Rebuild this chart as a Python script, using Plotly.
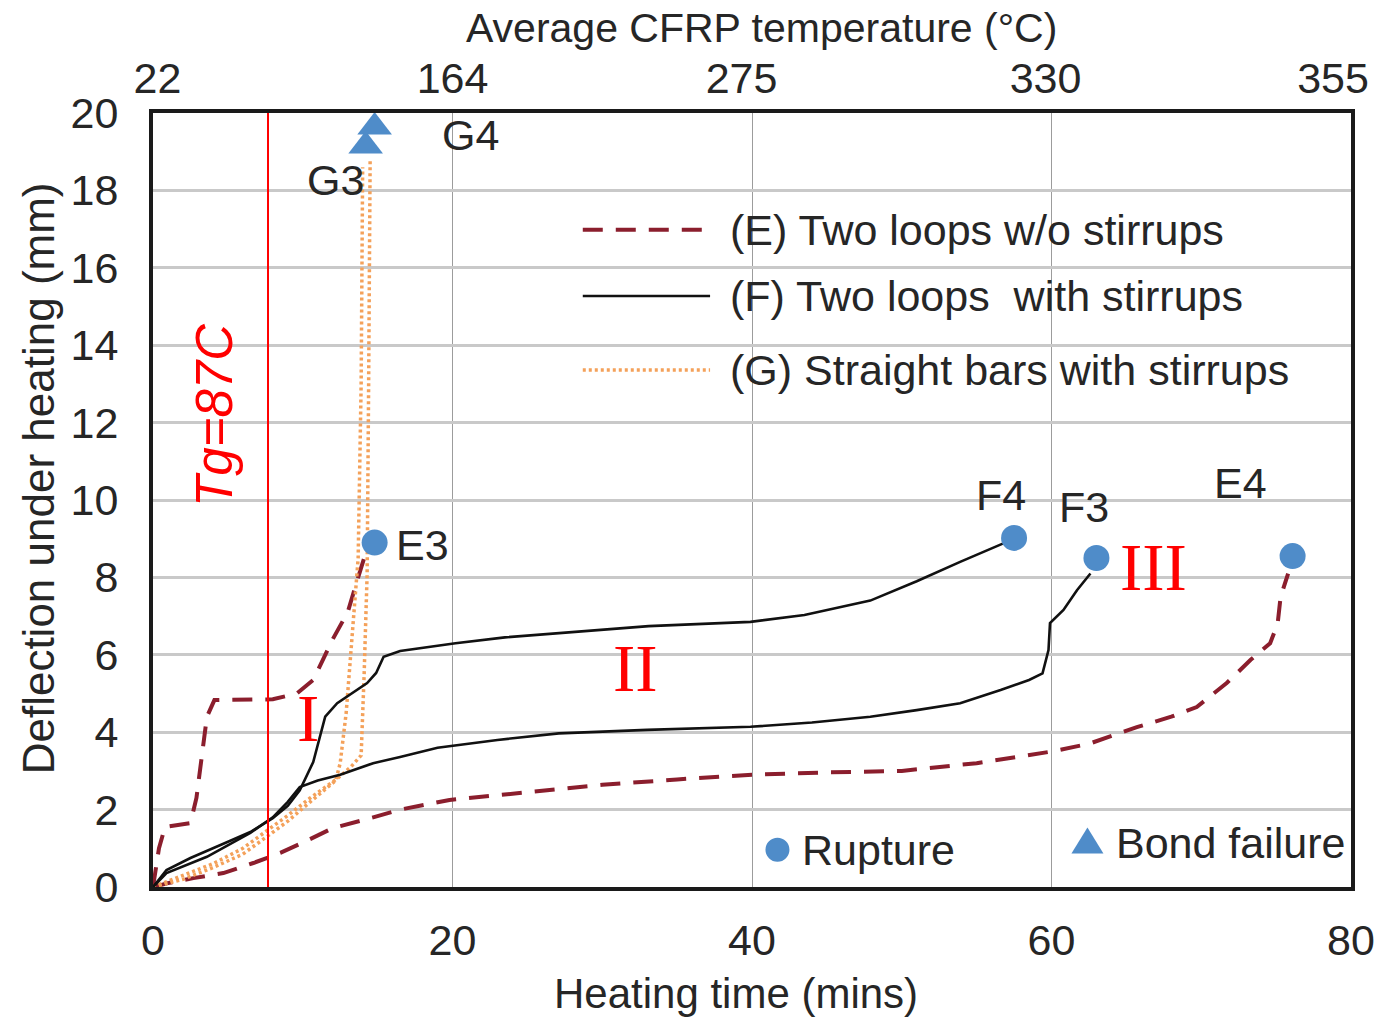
import plotly.graph_objects as go

# ---- data: heating time (min) vs. mid-span deflection (mm) ----
E3_time = [0, 0.4, 0.8, 1.6, 2.5, 2.9, 3.3, 3.6, 4.1, 6.0, 8.0, 9.6, 10.7, 12.0, 13.0, 13.7, 14.1]
E3_defl = [0, 1.0, 1.55, 1.6, 1.65, 2.3, 3.5, 4.4, 4.83, 4.83, 4.85, 5.0, 5.35, 6.4, 7.1, 8.0, 8.5]

E4_time = [0, 1.0, 2.7, 4.7, 6.7, 8.5, 10.3, 12.0, 14.7, 16.5, 19.8, 25, 30, 35, 40, 45, 50, 55,
           60, 62.5, 65.7, 68, 69.7, 71.7, 73.3, 74.6, 75.1, 75.3, 75.8]
E4_defl = [0, 0.1, 0.23, 0.36, 0.62, 0.88, 1.2, 1.52, 1.8, 2.0, 2.25, 2.45, 2.64, 2.78, 2.9, 2.96,
           3.0, 3.2, 3.5, 3.7, 4.13, 4.4, 4.65, 5.27, 5.87, 6.3, 6.8, 7.5, 8.1]

F4_time = [0, 0.9, 2.5, 3.8, 5.2, 6.5, 8.0, 9.0, 9.8, 10.7, 11.1, 11.5, 12.3, 13.5, 14.3, 14.9,
           15.4, 16.5, 20.2, 23.5, 27.1, 33.1, 39.9, 43.5, 47.9, 51.0, 53.9, 56.9]
F4_defl = [0, 0.44, 0.75, 0.96, 1.2, 1.42, 1.78, 2.1, 2.5, 3.23, 3.8, 4.4, 4.75, 5.05, 5.27, 5.53,
           5.95, 6.1, 6.3, 6.45, 6.56, 6.74, 6.85, 7.03, 7.4, 7.9, 8.4, 8.9]

F3_time = [0, 0.9, 3.6, 6.5, 8.0, 9.0, 9.8, 11.0, 12.5, 14.7, 16.5, 19.0, 23, 27.1, 33, 39.9, 44,
           47.9, 51, 53.9, 56.6, 58.5, 59.4, 59.8, 59.9, 60.8, 61.7, 62.6]
F3_defl = [0, 0.36, 0.78, 1.4, 1.8, 2.2, 2.58, 2.75, 2.9, 3.2, 3.36, 3.6, 3.8, 3.97, 4.06, 4.14,
           4.25, 4.4, 4.57, 4.75, 5.09, 5.35, 5.52, 6.12, 6.82, 7.16, 7.67, 8.1]

G3_time = [0, 2.0, 4.0, 6.0, 7.6, 9.0, 10.5, 12.2, 12.5, 12.9, 13.3, 13.7, 13.9, 14.0]
G3_defl = [0, 0.2, 0.5, 0.85, 1.3, 1.7, 2.2, 2.75, 3.2, 4.5, 6.5, 8.5, 13.0, 18.6]
G4_time = [0, 2.0, 4.0, 6.0, 7.6, 9.0, 10.5, 12.3, 13.2, 13.9, 14.1, 14.3, 14.4, 14.5]
G4_defl = [0, 0.3, 0.6, 1.0, 1.45, 1.85, 2.3, 2.8, 3.1, 3.4, 5.5, 8.1, 13.0, 18.8]

# failure points
rupture_names = ["E3", "F4", "F3", "E4"]
rupture_time = [14.8, 57.5, 63.0, 76.1]
rupture_defl = [8.9, 9.02, 8.5, 8.55]

bond_names = ["G3", "G4"]
bond_time = [14.2, 14.8]
bond_defl = [19.15, 19.64]

# top axis: average CFRP temperature, labels placed along the time scale
temp_tick_pos = [0.3, 20.0, 39.3, 59.6, 78.8]
temp_tick_label = ["22", "164", "275", "330", "355"]

TG_TIME = 7.68          # time when CFRP reaches Tg = 87 C
TG_LABEL = "Tg=87C"

legend_labels = ["(E) Two loops w/o stirrups", "(F) Two loops  with stirrups",
                 "(G) Straight bars with stirrups"]

# ---- styles ----
FONT = "Liberation Sans, Arial, sans-serif"
TXT = "#262626"
E_COLOR = "#8B1E2D"
F_COLOR = "#111111"
G_COLOR = "#F4A15A"
MARK_COLOR = "#4F8CC9"
E_LINE = dict(color=E_COLOR, width=4, dash="20px,13px")
F_LINE = dict(color=F_COLOR, width=2.6)
G_LINE = dict(color=G_COLOR, width=3.5, dash="3px,3px")
TEXT_SIZE = 43

fig = go.Figure()

for t, d in [(E3_time, E3_defl), (E4_time, E4_defl)]:
    fig.add_trace(go.Scatter(x=t, y=d, mode="lines", line=E_LINE, hoverinfo="skip"))
for t, d in [(G3_time, G3_defl), (G4_time, G4_defl)]:
    fig.add_trace(go.Scatter(x=t, y=d, mode="lines", line=G_LINE, hoverinfo="skip"))
for t, d in [(F4_time, F4_defl), (F3_time, F3_defl)]:
    fig.add_trace(go.Scatter(x=t, y=d, mode="lines", line=F_LINE, hoverinfo="skip"))

fig.add_trace(go.Scatter(x=rupture_time, y=rupture_defl, mode="markers", cliponaxis=False,
                         marker=dict(symbol="circle", size=26, color=MARK_COLOR)))
fig.add_trace(go.Scatter(x=bond_time, y=bond_defl, mode="markers", cliponaxis=False,
                         marker=dict(symbol="triangle-up", size=30, color=MARK_COLOR)))

# invisible trace so the top temperature axis is drawn
fig.add_trace(go.Scatter(x=temp_tick_pos, y=[0] * 5, xaxis="x2", mode="markers",
                         marker=dict(opacity=0), hoverinfo="skip"))

# Tg reference line
fig.add_shape(type="line", x0=TG_TIME, x1=TG_TIME, y0=0, y1=20, xref="x", yref="y",
              line=dict(color="#FF0000", width=2))
fig.add_annotation(x=4.14, y=12.2, text=TG_LABEL, showarrow=False, textangle=-90,
                   font=dict(family=FONT, size=51, color="#FF0000", style="italic"))

# specimen labels
specimen_label_pos = {"E3": (18.0, 8.84), "F4": (56.6, 10.13), "F3": (62.2, 9.82),
                      "E4": (72.6, 10.44), "G3": (12.2, 18.27), "G4": (21.2, 19.43)}
for name, (x, y) in specimen_label_pos.items():
    fig.add_annotation(x=x, y=y, text=name, showarrow=False,
                       font=dict(family=FONT, size=TEXT_SIZE, color=TXT))

# stage numerals
for txt, x, y in [("I", 10.35, 4.37), ("II", 32.2, 5.66), ("III", 66.8, 8.27)]:
    fig.add_annotation(x=x, y=y, text=txt, showarrow=False,
                       font=dict(family="Liberation Serif, Times New Roman, serif",
                                 size=67, color="#FF0000"))

# line key (upper right)
key_lines = [(E_LINE, 16.98), (F_LINE, 15.27), (G_LINE, 13.36)]
for (ln, y), lab in zip(key_lines, legend_labels):
    fig.add_shape(type="line", x0=28.7, x1=37.2, y0=y, y1=y, xref="x", yref="y",
                  line=ln)
    fig.add_annotation(x=38.4, y=y, text=lab, showarrow=False, xanchor="left",
                       font=dict(family=FONT, size=TEXT_SIZE, color=TXT))

# marker key (bottom)
fig.add_shape(type="circle", xref="x", yref="y", xsizemode="pixel", ysizemode="pixel",
              xanchor=41.7, yanchor=0.96, x0=-12, x1=12, y0=-12, y1=12,
              fillcolor=MARK_COLOR, line=dict(width=0))
fig.add_annotation(x=43.2, y=0.96, text="Rupture", showarrow=False, xanchor="left",
                   font=dict(family=FONT, size=TEXT_SIZE, color=TXT))
fig.add_shape(type="path", xref="x", yref="y", xsizemode="pixel", ysizemode="pixel",
              xanchor=62.4, yanchor=1.15, path="M-16,-11 L16,-11 L0,15 Z",
              fillcolor=MARK_COLOR, line=dict(width=0))
fig.add_annotation(x=64.2, y=1.15, text="Bond failure", showarrow=False, xanchor="left",
                   font=dict(family=FONT, size=TEXT_SIZE, color=TXT))

# axis titles
fig.add_annotation(xref="paper", yref="paper", x=0.4866, y=-0.137, text="Heating time (mins)",
                   xanchor="center", yanchor="middle", showarrow=False,
                   font=dict(family=FONT, size=42, color=TXT))
fig.add_annotation(xref="paper", yref="paper", x=-0.096, y=0.528, textangle=-90,
                   text="Deflection under heating (mm)", showarrow=False,
                   xanchor="center", yanchor="middle",
                   font=dict(family=FONT, size=44, color=TXT))
fig.add_annotation(xref="paper", yref="paper", x=0.508, y=1.1098,
                   text="Average CFRP temperature (°C)", showarrow=False,
                   xanchor="center", yanchor="middle",
                   font=dict(family=FONT, size=41, color=TXT))

fig.update_layout(
    width=1378, height=1018,
    margin=dict(l=153, r=27, t=113, b=131),
    plot_bgcolor="white", paper_bgcolor="white",
    showlegend=False,
    font=dict(family=FONT, size=TEXT_SIZE, color=TXT),
    xaxis=dict(range=[0, 80], tickvals=[0, 20, 40, 60, 80], showgrid=True,
               gridcolor="#9c9c9c", gridwidth=1.3, zeroline=False,
               showline=True, mirror=True, linecolor="#1a1a1a", linewidth=4,
               ticks="", ticklabelstandoff=12, automargin=False),
    yaxis=dict(range=[0, 20], dtick=2, showgrid=True, gridcolor="#c9c9c9", gridwidth=2.5,
               zeroline=False, showline=True, mirror=True, linecolor="#1a1a1a", linewidth=4,
               ticks="", ticklabelstandoff=22, automargin=False),
    xaxis2=dict(range=[0, 80], overlaying="x", side="top", tickvals=temp_tick_pos,
                ticktext=temp_tick_label, showgrid=False, zeroline=False, showline=False,
                ticks="", ticklabelstandoff=10, automargin=False),
)

fig.write_html("out.html")
